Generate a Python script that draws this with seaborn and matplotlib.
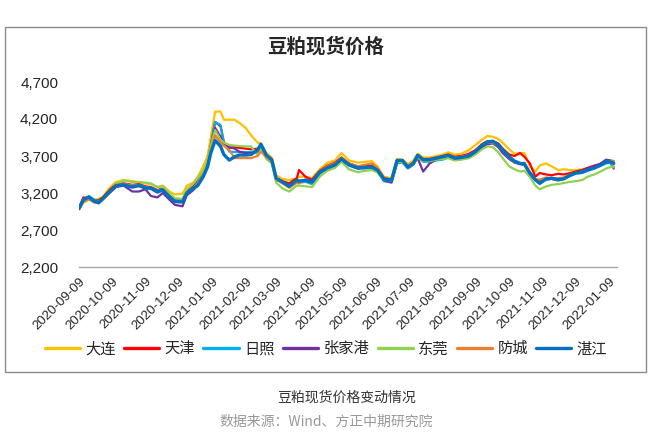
import matplotlib
matplotlib.use("Agg")
import matplotlib.pyplot as plt
from matplotlib.lines import Line2D
from matplotlib.patches import Rectangle
from matplotlib.ticker import FuncFormatter
import pandas as pd
import seaborn as sns

# sample dates (roughly weekly)
dates = [
    "2020-09-09", "2020-09-13", "2020-09-18", "2020-09-23", "2020-09-27", "2020-10-01",
    "2020-10-07", "2020-10-13", "2020-10-20", "2020-10-28", "2020-11-03", "2020-11-09",
    "2020-11-14", "2020-11-20", "2020-11-25", "2020-12-01", "2020-12-06", "2020-12-13",
    "2020-12-17", "2020-12-23", "2020-12-27", "2021-01-01", "2021-01-05", "2021-01-08",
    "2021-01-12", "2021-01-17", "2021-01-20", "2021-01-25", "2021-01-30", "2021-02-03",
    "2021-02-09", "2021-02-14", "2021-02-20", "2021-02-23", "2021-02-28", "2021-03-05",
    "2021-03-09", "2021-03-15", "2021-03-21", "2021-03-28", "2021-03-30", "2021-04-05",
    "2021-04-11", "2021-04-18", "2021-04-25", "2021-05-02", "2021-05-08", "2021-05-15",
    "2021-05-23", "2021-05-29", "2021-06-05", "2021-06-10", "2021-06-16", "2021-06-23",
    "2021-06-28", "2021-07-03", "2021-07-08", "2021-07-13", "2021-07-17", "2021-07-22",
    "2021-07-28", "2021-08-03", "2021-08-09", "2021-08-14", "2021-08-20", "2021-08-26",
    "2021-09-02", "2021-09-08", "2021-09-14", "2021-09-19", "2021-09-24", "2021-09-29",
    "2021-10-03", "2021-10-09", "2021-10-14", "2021-10-19", "2021-10-23", "2021-10-28",
    "2021-11-02", "2021-11-06", "2021-11-12", "2021-11-17", "2021-11-23", "2021-11-28",
    "2021-12-04", "2021-12-09", "2021-12-15", "2021-12-20", "2021-12-26", "2021-12-31",
    "2022-01-06", "2022-01-10", "2022-01-13",
]

dalian = [
    3010, 3090, 3120, 3110, 3120, 3150, 3270, 3350, 3375, 3360, 3340, 3330,
    3320, 3280, 3300, 3220, 3180, 3190, 3300, 3340, 3420, 3560, 3700, 3950,
    4300, 4300, 4190, 4190, 4190, 4150, 4080, 3980, 3880, 3870, 3740, 3680,
    3440, 3390, 3375, 3400, 3420, 3420, 3400, 3520, 3610, 3640, 3740, 3640,
    3610, 3620, 3630, 3560, 3420, 3400, 3660, 3650, 3590, 3640, 3730, 3680,
    3680, 3700, 3720, 3750, 3720, 3730, 3780, 3850, 3920, 3970, 3960, 3930,
    3880, 3790, 3730, 3740, 3740, 3560, 3490, 3570, 3600, 3560, 3510, 3520,
    3510, 3510, 3520, 3530, 3550, 3570, 3610, 3630, 3620,
]
tianjin = [
    3000, 3140, 3130, 3100, 3100, 3140, 3240, 3320, 3330, 3310, 3320, 3290,
    3280, 3240, 3260, 3170, 3120, 3110, 3230, 3290, 3360, 3470, 3620, 3850,
    4160, 4100, 3890, 3810, 3820, 3810, 3800, 3790, 3800, 3840, 3700, 3640,
    3400, 3360, 3330, 3400, 3510, 3420, 3380, 3500, 3570, 3610, 3680, 3600,
    3560, 3570, 3570, 3530, 3400, 3380, 3620, 3630, 3560, 3610, 3700, 3660,
    3660, 3680, 3700, 3720, 3690, 3700, 3730, 3780, 3860, 3900, 3900, 3870,
    3800, 3720, 3700, 3740, 3690, 3600, 3420, 3470, 3450, 3440, 3460, 3450,
    3470, 3490, 3510, 3540, 3570, 3590, 3620, 3610, 3530,
]
rizhao = [
    2990, 3100, 3160, 3110, 3080, 3120, 3220, 3300, 3320, 3300, 3310, 3280,
    3270, 3230, 3250, 3160, 3100, 3090, 3210, 3270, 3340, 3460, 3600, 3820,
    4160, 4120, 3875, 3760, 3754, 3754, 3754, 3754, 3760, 3850, 3700, 3630,
    3390, 3330, 3300, 3350, 3340, 3350, 3320, 3460, 3530, 3560, 3640, 3570,
    3530, 3530, 3540, 3490, 3360, 3340, 3600, 3610, 3530, 3580, 3690, 3620,
    3620, 3640, 3650, 3680, 3650, 3660, 3690, 3740, 3830, 3870, 3880, 3830,
    3760, 3670, 3620, 3600, 3610, 3460, 3370, 3360, 3380, 3390, 3380, 3390,
    3430, 3460, 3470, 3500, 3530, 3560, 3600, 3610, 3540,
]
zhangjiagang = [
    2980, 3080, 3120, 3080, 3060, 3110, 3200, 3280, 3300, 3220, 3220, 3250,
    3160, 3140, 3200, 3110, 3040, 3020, 3170, 3240, 3320, 3440, 3590, 3800,
    4080, 3960, 3850, 3820, 3800, 3760, 3740, 3740, 3750, 3830, 3690, 3620,
    3380, 3340, 3300, 3370, 3360, 3380, 3360, 3470, 3540, 3570, 3650, 3580,
    3530, 3550, 3560, 3500, 3370, 3345, 3610, 3620, 3540, 3590, 3670, 3490,
    3600, 3650, 3670, 3690, 3650, 3660, 3680, 3730, 3820, 3860, 3870, 3820,
    3740, 3660, 3610, 3590, 3580, 3460, 3380, 3370, 3400, 3390, 3370, 3400,
    3440, 3470, 3500, 3530, 3560, 3590, 3650, 3640, 3630,
]
dongguan = [
    2990, 3070, 3110, 3080, 3070, 3110, 3210, 3320, 3370, 3350, 3350, 3340,
    3330, 3280, 3290, 3190, 3130, 3120, 3250, 3330, 3400, 3500, 3640, 3840,
    4050, 3920, 3880, 3850, 3840, 3835, 3830, 3830, 3713, 3800, 3660, 3600,
    3340, 3260, 3220, 3300, 3300, 3290, 3280, 3420, 3500, 3540, 3620, 3520,
    3480, 3500, 3510, 3480, 3380, 3370, 3620, 3610, 3540, 3590, 3680, 3630,
    3630, 3650, 3660, 3670, 3640, 3650, 3670, 3720, 3790, 3830, 3820, 3750,
    3670, 3560, 3520, 3490, 3500, 3420, 3300, 3250, 3290, 3310, 3320, 3335,
    3350, 3360, 3375, 3420, 3450, 3483, 3530, 3550, 3560,
]
fangcheng = [
    2980, 3080, 3120, 3070, 3080, 3120, 3220, 3290, 3320, 3300, 3300, 3270,
    3260, 3220, 3240, 3140, 3090, 3080, 3200, 3260, 3330, 3450, 3580, 3760,
    3980, 3880, 3840, 3780, 3672, 3672, 3672, 3672, 3700, 3760, 3690, 3620,
    3390, 3330, 3270, 3340, 3330, 3380, 3340, 3490, 3560, 3600, 3670, 3600,
    3560, 3580, 3600, 3540, 3400, 3380, 3640, 3630, 3560, 3610, 3700, 3650,
    3660, 3680, 3690, 3710, 3680, 3690, 3710, 3760, 3840, 3880, 3880, 3840,
    3770, 3680, 3620, 3600, 3590, 3480, 3390, 3380, 3410, 3400, 3400, 3410,
    3450, 3470, 3490, 3510, 3540, 3570, 3620, 3630, 3630,
]
zhanjiang = [
    2990, 3110, 3146, 3090, 3070, 3130, 3215, 3300, 3310, 3280, 3300, 3267,
    3262, 3213, 3240, 3150, 3085, 3078, 3200, 3260, 3300, 3420, 3551, 3740,
    3910, 3830, 3720, 3645, 3690, 3713, 3713, 3720, 3780, 3860, 3713, 3650,
    3400, 3348, 3290, 3375, 3360, 3370, 3348, 3480, 3540, 3580, 3660, 3580,
    3540, 3545, 3550, 3510, 3390, 3375, 3640, 3640, 3550, 3600, 3710, 3650,
    3650, 3670, 3690, 3710, 3670, 3680, 3700, 3760, 3840, 3890, 3900, 3850,
    3780, 3690, 3630, 3600, 3590, 3470, 3380, 3330, 3390, 3400, 3380, 3390,
    3440, 3470, 3483, 3510, 3540, 3570, 3620, 3620, 3600,
]

cities = ["大连", "天津", "日照", "张家港", "东莞", "防城", "湛江"]
series = [dalian, tianjin, rizhao, zhangjiagang, dongguan, fangcheng, zhanjiang]
colors = {
    "大连": "#FFC000",
    "天津": "#FF0000",
    "日照": "#00B0F0",
    "张家港": "#7030A0",
    "东莞": "#92D050",
    "防城": "#ED7D31",
    "湛江": "#0070C0",
}
y_ticks = [2200, 2700, 3200, 3700, 4200, 4700]

sns.set_style("white")
plt.rcParams["font.family"] = ["Liberation Sans", "Noto Sans CJK SC"]

df = pd.DataFrame({"date": pd.to_datetime(dates)})
for city, values in zip(cities, series):
    df[city] = values
df = df.melt(id_vars="date", var_name="city", value_name="price")

W, H = 652, 440
fig = plt.figure(figsize=(W / 100, H / 100), dpi=100)
ax = fig.add_axes([79 / W, 1 - 267 / H, 538 / W, 185 / H])

sns.lineplot(data=df, x="date", y="price", hue="city", hue_order=cities,
             palette=colors, estimator=None, legend=False, ax=ax)
for line, city in zip(ax.lines, cities):
    line.set_linewidth(2.4 if city == "湛江" else 1.6)
    line.set_solid_joinstyle("round")

ax.set_ylim(2200, 4700)
ax.set_yticks(y_ticks)
ax.yaxis.set_major_formatter(FuncFormatter(lambda v, _: f"{int(v):,}"))
ax.set_xlim(pd.Timestamp("2020-09-09"), pd.Timestamp("2022-01-16"))
ticks = pd.date_range("2020-09-09", "2022-01-09", freq=pd.DateOffset(months=1))
ax.set_xticks(ticks)
ax.set_xticklabels([t.strftime("%Y-%m-%d") for t in ticks], rotation=45,
                   ha="right", rotation_mode="anchor", fontsize=9.5)
ax.tick_params(axis="x", length=0, pad=6)
ax.tick_params(axis="y", length=0, pad=15, labelsize=11)
ax.set_xlabel("")
ax.set_ylabel("")
for side in ["left", "right", "top"]:
    ax.spines[side].set_visible(False)
ax.spines["bottom"].set_color("#A6A6A6")
ax.spines["bottom"].set_linewidth(1)

# chart border
fig.patches.append(Rectangle((5 / W, 1 - 372 / H), 641 / W, 345 / H,
                             transform=fig.transFigure, fill=False,
                             edgecolor="#8C8C8C", linewidth=1))

fig.text(326 / W, 1 - 47 / H, "豆粕现货价格", ha="center", va="center",
         fontsize=14, fontweight="bold", family=["Noto Sans CJK SC"])

handles = [Line2D([0], [0], color=colors[c], linewidth=2.4) for c in cities]
fig.legend(handles, cities, loc="center", bbox_to_anchor=(0.5, 1 - 349 / H),
           ncol=7, frameon=False, fontsize=11, handlelength=2.3,
           handletextpad=0.35, columnspacing=0.55)

fig.text(347 / W, 1 - 398 / H, "豆粕现货价格变动情况", ha="center", va="center",
         fontsize=10, color="#333333", family=["Noto Sans CJK SC"])
fig.text(326 / W, 1 - 422 / H, "数据来源：Wind、方正中期研究院", ha="center",
         va="center", fontsize=10, color="#999999", family=["Noto Sans CJK SC"])

fig.savefig("out.png", dpi=100)
plt.close(fig)
